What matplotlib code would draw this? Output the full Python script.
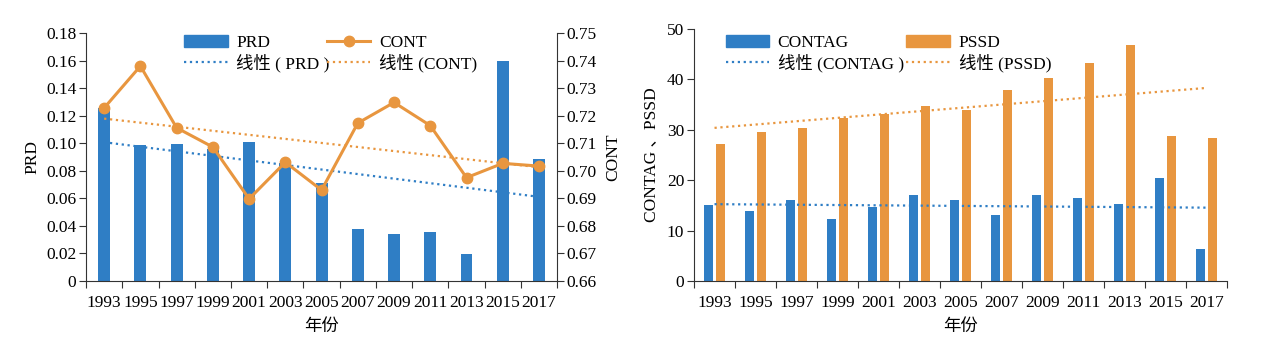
import numpy as np
import matplotlib
matplotlib.use('Agg')
import matplotlib.pyplot as plt
from matplotlib.lines import Line2D
from matplotlib.patches import Patch

plt.rcParams['font.family'] = ['Liberation Serif', 'Noto Sans CJK SC']
plt.rcParams['font.size'] = 12.5

years = ['1993', '1995', '1997', '1999', '2001', '2003', '2005',
         '2007', '2009', '2011', '2013', '2015', '2017']
prd = [0.1256, 0.0987, 0.0992, 0.0960, 0.1009, 0.0856, 0.0711,
       0.0377, 0.0341, 0.0356, 0.0196, 0.1594, 0.0883]
cont = [0.7228, 0.7380, 0.7156, 0.7086, 0.6898, 0.7031, 0.6930,
        0.7173, 0.7248, 0.7164, 0.6975, 0.7027, 0.7017]
contag = [15.1, 13.8, 16.1, 12.4, 14.7, 17.1, 16.1,
          13.0, 17.0, 16.4, 15.3, 20.4, 6.3]
pssd = [27.1, 29.6, 30.3, 32.3, 33.1, 34.7, 34.0,
        37.8, 40.3, 43.3, 46.9, 28.7, 28.4]

blue = '#2F7EC5'
orange = '#E8963F'
axis_col = '#333333'

x = np.arange(len(years))


def trend(values):
    k, b = np.polyfit(x, values, 1)
    return k * x + b


def style_axes(ax):
    for side in ['top', 'right']:
        ax.spines[side].set_visible(False)
    for side in ['left', 'bottom']:
        ax.spines[side].set_color(axis_col)
    ax.set_xlim(-0.5, len(years) - 0.5)
    ax.set_xticks(np.arange(-0.5, len(years)), [''] * (len(years) + 1))
    ax.set_xticks(x, years, minor=True)
    ax.tick_params(axis='x', which='major', length=5, color=axis_col)
    ax.tick_params(axis='x', which='minor', length=0, pad=10)
    ax.tick_params(axis='y', length=5, color=axis_col, pad=2)


fig = plt.figure(figsize=(12.69, 3.51), dpi=100)

# left chart: PRD bars + CONT line on twin axis
ax1 = fig.add_axes([0.0678, 0.1994, 0.3712, 0.7066])
ax1.bar(x, prd, width=0.33, color=blue, zorder=2)
ax1.plot(x, trend(prd), ':', color=blue, lw=1.6, zorder=3)
ax1.set_ylim(0, 0.18)
ax1.set_yticks(np.arange(0, 0.181, 0.02),
               ['0'] + ['%.2f' % v for v in np.arange(0.02, 0.181, 0.02)])
style_axes(ax1)
ax1.set_ylabel('PRD', labelpad=4)
ax1.set_xlabel('年份', labelpad=6)

ax2 = ax1.twinx()
ax2.plot(x, cont, '-o', color=orange, lw=2.2, ms=7.5, zorder=4)
ax2.plot(x, trend(cont), ':', color=orange, lw=1.6, zorder=3)
ax2.set_ylim(0.66, 0.75)
ax2.set_yticks(np.arange(0.66, 0.7501, 0.01), ['%.2f' % v for v in np.arange(0.66, 0.7501, 0.01)])
for side in ['top', 'left', 'bottom']:
    ax2.spines[side].set_visible(False)
ax2.spines['right'].set_color(axis_col)
ax2.tick_params(axis='y', length=5, color=axis_col, pad=2)
ax2.set_ylabel('CONT', labelpad=6)

h1 = [Patch(color=blue), Line2D([], [], color=blue, ls=':', lw=1.6),
      Line2D([], [], color=orange, lw=2.2, marker='o', ms=7.5),
      Line2D([], [], color=orange, ls=':', lw=1.6)]
l1 = ['PRD', '线性 ( PRD )', 'CONT', '线性 (CONT)']
ax1.legend(h1, l1, ncol=2, loc='upper left', bbox_to_anchor=(0.175, 1.055),
           frameon=False, handlelength=2.5, handletextpad=0.5, columnspacing=-0.15,
           labelspacing=0.15)

# right chart: CONTAG and PSSD bars
ax3 = fig.add_axes([0.5469, 0.1994, 0.4200, 0.7180])
ax3.bar(x - 0.14, contag, width=0.23, color=blue, zorder=2)
ax3.bar(x + 0.14, pssd, width=0.23, color=orange, zorder=2)
ax3.plot(x, trend(contag), ':', color=blue, lw=1.6, zorder=3)
ax3.plot(x, trend(pssd), ':', color=orange, lw=1.6, zorder=3)
ax3.set_ylim(0, 50)
ax3.set_yticks(np.arange(0, 51, 10))
style_axes(ax3)
ax3.set_ylabel('CONTAG 、PSSD', labelpad=6)
ax3.set_xlabel('年份', labelpad=6)

h3 = [Patch(color=blue), Line2D([], [], color=blue, ls=':', lw=1.6),
      Patch(color=orange), Line2D([], [], color=orange, ls=':', lw=1.6)]
l3 = ['CONTAG', '线性 (CONTAG )', 'PSSD', '线性 (PSSD)']
ax3.legend(h3, l3, ncol=2, loc='upper left', bbox_to_anchor=(0.03, 1.04),
           frameon=False, handlelength=2.5, handletextpad=0.5,
           columnspacing=0.15, labelspacing=0.15)

fig.savefig('out.png', dpi=100)
